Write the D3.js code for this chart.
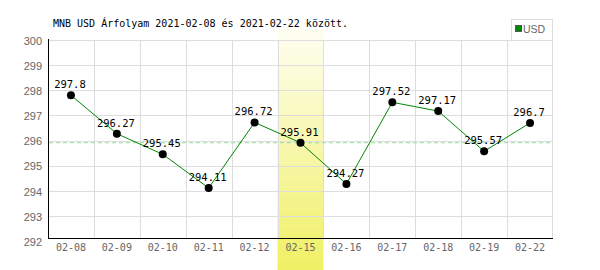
<!DOCTYPE html>
<html>
<head>
<meta charset="utf-8">
<script src="https://cdn.jsdelivr.net/npm/d3@7"></script>
<style>
  body { margin: 0; background: #fff; }
  svg { display: block; }
</style>
</head>
<body>
<div id="chart"></div>
<script>
// chart data
const days = ['02-08', '02-09', '02-10', '02-11', '02-12', '02-15', '02-16', '02-17', '02-18', '02-19', '02-22'];
const rates = [297.8, 296.27, 295.45, 294.11, 296.72, 295.91, 294.27, 297.52, 297.17, 295.57, 296.7];
const yTicks = [292, 293, 294, 295, 296, 297, 298, 299, 300];
const highlightDay = '02-15';
const seriesName = 'USD';
const title = 'MNB USD Árfolyam 2021-02-08 és 2021-02-22 között.';

const width = 600;
const height = 270;
const margin = { top: 40, right: 47, bottom: 29, left: 48 };

const svg = d3.select('#chart')
    .append('svg')
    .attr('width', width)
    .attr('height', height);

// scales
const x = d3.scaleBand()
    .domain(days)
    .range([margin.left, width - margin.right]);

const y = d3.scaleLinear()
    .domain([292, 300])
    .range([height - margin.bottom, margin.top]);

// highlighted column gradient
const grad = svg.append('defs').append('linearGradient')
    .attr('id', 'hl')
    .attr('x1', 0).attr('y1', 0).attr('x2', 0).attr('y2', 1);
grad.append('stop').attr('offset', '0%').attr('stop-color', '#fefef2');
grad.append('stop').attr('offset', '100%').attr('stop-color', '#f0f064');

svg.append('rect')
    .attr('x', x(highlightDay))
    .attr('y', 29)
    .attr('width', x.bandwidth())
    .attr('height', height - 29)
    .attr('fill', 'url(#hl)');

// grid lines
svg.append('g')
    .selectAll('line')
    .data(yTicks.filter(d => d > 292))
    .enter()
    .append('line')
    .attr('x1', margin.left)
    .attr('x2', width - margin.right)
    .attr('y1', d => Math.round(y(d)) + 0.5)
    .attr('y2', d => Math.round(y(d)) + 0.5)
    .attr('stroke', '#dddddd');

const axisY = height - margin.bottom - 3;

svg.append('g')
    .selectAll('line')
    .data(days.slice(1).concat(['end']))
    .enter()
    .append('line')
    .attr('x1', d => d === 'end' ? width - margin.right - 0.5 : Math.round(x(d)) + 0.5)
    .attr('x2', d => d === 'end' ? width - margin.right - 0.5 : Math.round(x(d)) + 0.5)
    .attr('y1', margin.top)
    .attr('y2', axisY)
    .attr('stroke', '#dddddd');

// axes lines
svg.append('line')
    .attr('x1', margin.left + 0.5).attr('x2', margin.left + 0.5)
    .attr('y1', margin.top - 1).attr('y2', axisY)
    .attr('stroke', '#000');
svg.append('line')
    .attr('x1', margin.left).attr('x2', width - margin.right)
    .attr('y1', axisY + 0.5).attr('y2', axisY + 0.5)
    .attr('stroke', '#000');

// y tick labels
svg.append('g')
    .selectAll('text')
    .data(yTicks)
    .enter()
    .append('text')
    .attr('x', 42)
    .attr('y', d => y(d) + 1)
    .attr('dy', '0.35em')
    .attr('text-anchor', 'end')
    .attr('font-family', 'Liberation Sans, Arial, sans-serif')
    .attr('font-size', 11)
    .attr('fill', '#666')
    .text(d => d);

// x tick labels
svg.append('g')
    .selectAll('text')
    .data(days)
    .enter()
    .append('text')
    .attr('x', d => x(d) + x.bandwidth() / 2)
    .attr('y', 247)
    .attr('dy', '0.35em')
    .attr('text-anchor', 'middle')
    .attr('font-family', 'DejaVu Sans Mono, monospace')
    .attr('font-size', 10)
    .attr('fill', '#666')
    .text(d => d);

// reference line at highlighted value
const hlValue = rates[days.indexOf(highlightDay)];
svg.append('line')
    .attr('x1', margin.left + 1)
    .attr('x2', width - margin.right)
    .attr('y1', y(hlValue))
    .attr('y2', y(hlValue))
    .attr('stroke', '#99dd99')
    .attr('stroke-dasharray', '4,3');

// series line
const data = days.map((d, i) => ({ day: d, value: rates[i] }));
const line = d3.line()
    .x(d => x(d.day) + x.bandwidth() / 2)
    .y(d => y(d.value));

svg.append('path')
    .datum(data)
    .attr('d', line)
    .attr('fill', 'none')
    .attr('stroke', '#008800')
    .attr('stroke-width', 1);

// points
svg.append('g')
    .selectAll('circle')
    .data(data)
    .enter()
    .append('circle')
    .attr('cx', d => x(d.day) + x.bandwidth() / 2)
    .attr('cy', d => y(d.value))
    .attr('r', 4)
    .attr('fill', '#000');

// value labels
svg.append('g')
    .selectAll('text')
    .data(data)
    .enter()
    .append('text')
    .attr('x', d => x(d.day) + x.bandwidth() / 2 - 1)
    .attr('y', d => y(d.value) - 7)
    .attr('text-anchor', 'middle')
    .attr('font-family', 'DejaVu Sans Mono, monospace')
    .attr('font-size', 10.5)
    .attr('fill', '#000')
    .text(d => d.value);

// title
svg.append('text')
    .attr('x', 53)
    .attr('y', 23)
    .attr('dy', '0.35em')
    .attr('font-family', 'DejaVu Sans Mono, monospace')
    .attr('font-size', 10)
    .attr('fill', '#000')
    .text(title);

// legend
const legend = svg.append('g');
legend.append('rect')
    .attr('x', 511.5).attr('y', 19.5)
    .attr('width', 41).attr('height', 21)
    .attr('fill', '#fff')
    .attr('stroke', '#dddddd');
legend.append('rect')
    .attr('x', 515.5).attr('y', 25.5)
    .attr('width', 6).attr('height', 6)
    .attr('fill', '#008800')
    .attr('stroke', '#555');
legend.append('text')
    .attr('x', 523)
    .attr('y', 29)
    .attr('dy', '0.35em')
    .attr('font-family', 'Liberation Sans, Arial, sans-serif')
    .attr('font-size', 10.5)
    .attr('fill', '#666')
    .text(seriesName);
</script>
</body>
</html>
